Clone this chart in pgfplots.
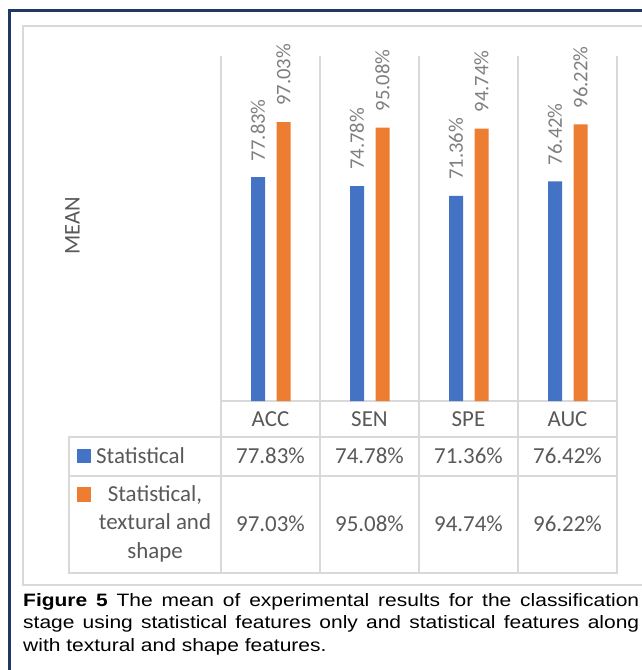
\documentclass[border=0pt]{standalone}
\usepackage{pgfplots}
\pgfplotsset{compat=1.18}
\usepackage{pgfplotstable}
\usepackage{fontspec}
\setmainfont{Carlito}
\newfontfamily\captionfont[FakeStretch=1.17]{Liberation Sans}

\definecolor{barblue}{HTML}{4472C4}
\definecolor{barorange}{HTML}{ED7D31}
\definecolor{gridgray}{HTML}{D9D9D9}
\definecolor{textgray}{HTML}{595959}
\definecolor{labelgray}{HTML}{7F7F7F}
\definecolor{framenavy}{HTML}{1F3864}

% mean results per metric
\pgfplotstableread{
idx cat stat full
0 ACC 77.83 97.03
1 SEN 74.78 95.08
2 SPE 71.36 94.74
3 AUC 76.42 96.22
}\meanres

\begin{document}
\begin{tikzpicture}
\useasboundingbox (0,0) rectangle (642bp,-670bp);
\clip (0,0) rectangle (642bp,-670bp);
\fill[white] (0,0) rectangle (642bp,-670bp);
\begin{scope}[x=1bp,y=-1bp]
  % outer frame and chart area
  \draw[framenavy, line width=2.5bp] (9.5,10.5) rectangle (700,720);
  \draw[gridgray, line width=1.5bp] (23,26) rectangle (700,585);
  % category separators running through the data table
  \foreach \xx in {221,320,419,518,617}
    \draw[gridgray, line width=1.5bp] (\xx,56) -- (\xx,573);
  \draw[gridgray, line width=1.5bp] (221,401) -- (617,401);
  \foreach \yy in {437,476,573}
    \draw[gridgray, line width=1.5bp, line cap=rect] (69,\yy) -- (617,\yy);
  \draw[gridgray, line width=1.5bp] (69,437) -- (69,573);
  % axis title
  \node[rotate=90, text=textgray, font=\fontsize{22.6}{27}\selectfont, inner sep=0] at (72.5,226) {MEAN};
  % data table: header row and values
  \foreach \r/\cx in {0/270.5,1/369.5,2/468.5,3/567.5}{
    \pgfplotstablegetelem{\r}{cat}\of\meanres
    \node[anchor=base, inner sep=0, text=textgray, font=\fontsize{23}{28}\selectfont] at (\cx,426.5) {\pgfplotsretval};
    \pgfplotstablegetelem{\r}{stat}\of\meanres
    \node[anchor=base, inner sep=0, text=textgray, font=\fontsize{23}{28}\selectfont] at (\cx,463) {\pgfplotsretval\%};
    \pgfplotstablegetelem{\r}{full}\of\meanres
    \node[anchor=base, inner sep=0, text=textgray, font=\fontsize{23}{28}\selectfont] at (\cx,531.5) {\pgfplotsretval\%};
  }
  % legend keys of the data table
  \fill[barblue] (77,449) rectangle (91,463);
  \node[anchor=base west, inner sep=0, text=textgray, font=\fontsize{23}{28}\selectfont] at (96,463) {Statistical};
  \fill[barorange] (77,487) rectangle (91,502);
  \node[anchor=base, inner sep=0, text=textgray, font=\fontsize{23}{28}\selectfont] at (155,501) {Statistical,};
  \node[anchor=base, inner sep=0, text=textgray, font=\fontsize{23}{28}\selectfont] at (155,529.5) {textural and};
  \node[anchor=base, inner sep=0, text=textgray, font=\fontsize{23}{28}\selectfont] at (155,558) {shape};
  % caption
  \node[anchor=north west, inner sep=0, text width=616bp, align=justify,
        font=\captionfont\fontsize{18}{22.5}\selectfont] at (23,593)
    {\textbf{Figure 5} The mean of experimental results for the classification\linebreak
     stage using statistical features only and statistical features along\linebreak
     with textural and shape features.};
\end{scope}
\begin{axis}[
  at={(221bp,-401bp)}, anchor=south west,
  scale only axis, width=396bp, height=345bp,
  xmin=-0.5, xmax=3.5, ymin=0, ymax=120,
  hide axis, clip=false,
  ybar, bar width=14bp,
  /pgf/number format/assume math mode=true,
  nodes near coords={\pgfmathprintnumber[fixed,fixed zerofill,precision=2]{\pgfplotspointmeta}\%},
  every node near coord/.append style={rotate=90, anchor=west, inner xsep=16bp,
    inner ysep=0pt, text=labelgray, font=\fontsize{20.7}{25}\selectfont},
]
\addplot[fill=barblue, draw=none, bar shift=-12.5bp] table[x=idx,y=stat]{\meanres};
\addplot[fill=barorange, draw=none, bar shift=13bp] table[x=idx,y=full]{\meanres};
\end{axis}
\end{tikzpicture}
\end{document}
